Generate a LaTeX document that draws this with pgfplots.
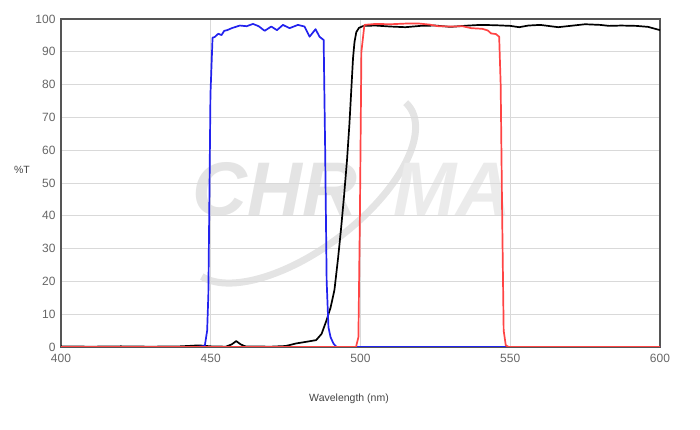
\documentclass[border=0pt]{standalone}
\usepackage{pgfplots}
\pgfplotsset{compat=1.18}
\usepackage{fontspec}
\setmainfont{Liberation Sans}
\definecolor{frame}{HTML}{555555}
\definecolor{gridc}{HTML}{D9D9D9}
\definecolor{ticktext}{HTML}{666666}
\definecolor{labtext}{HTML}{444444}
\definecolor{cblue}{HTML}{2222EE}
\definecolor{cred}{HTML}{FF4444}
\definecolor{wm}{HTML}{E4E4E4}
\definecolor{wmlight}{HTML}{EBEBEB}
\begin{document}
\begin{tikzpicture}
\begin{axis}[
  set layers,
  scale only axis,
  width=599pt, height=328pt,
  xmin=400, xmax=600, ymin=0, ymax=100,
  xtick={400,450,500,550,600},
  ytick={0,10,...,100},
  major tick length=0pt,
  axis line style={draw=frame, line width=1.6pt},
  ymajorgrids, xmajorgrids,
  major grid style={draw=gridc, line width=0.8pt},
  tick label style={font=\fontsize{12}{14}\selectfont, text=ticktext},
  /pgf/number format/assume math mode=true,
  yticklabel style={xshift=-2pt},
  xticklabel style={yshift=-4pt},
  xlabel={Wavelength (nm)},
  xlabel style={at={(axis description cs:0.4808,-0.1585)}, anchor=center, font=\fontsize{10.5}{12}\selectfont, text=labtext},
  ylabel={\%T},
  ylabel style={at={(axis description cs:-0.0651,0.5396)}, anchor=center, rotate=-90, font=\fontsize{10.5}{12}\selectfont, text=labtext},
  clip=true,
]
% watermark
\begin{pgfonlayer}{axis background}
\draw[wmlight, line width=1.6pt, shift={(axis cs:480.3,48.5)}, rotate=37]
  (0,0) ellipse [x radius=135pt, y radius=62pt];
\draw[wm, line width=7pt, shift={(axis cs:480.3,48.5)}, rotate=37]
  (190:135pt and 62pt) arc[start angle=190, end angle=365, x radius=135pt, y radius=62pt];
\node[anchor=base west, inner sep=0pt, text=wm, font=\fontsize{76}{76}\bfseries\itshape] at (axis cs:444,40.2) {CHR};
\node[anchor=base west, inner sep=0pt, text=wmlight, font=\fontsize{76}{76}\bfseries\itshape] at (axis cs:511,40.2) {MA};
\end{pgfonlayer}
% black
\addplot[black, line width=1.7pt, line join=round] coordinates {
(400,0.2)(410,0.1)(420,0.2)(430,0.1)(440,0.2)(446,0.5)(450,0.2)(455,0.1)(457,0.8)(458.5,1.8)(460,0.8)(461.5,0.2)(470,0.1)(475,0.3)(478.6,1.1)(482,1.6)(485.2,2.1)(487,4)(488.6,8)(490,12)(490.8,15.3)(491.3,17.4)(492.5,27)(493.5,36)(494.5,46)(495.5,57)(496.3,68)(496.9,78)(497.5,88)(498,93)(498.6,96)(499.5,97.3)(501,97.9)(505,98.0)(510,97.7)(515,97.5)(520,97.9)(525,98.0)(530,97.6)(536,98.0)(540,98.2)(545,98.1)(550,97.9)(553,97.5)(556,98.0)(560,98.2)(566,97.5)(570,97.9)(575,98.4)(580,98.2)(583,97.9)(587,98.0)(592,97.9)(596,97.6)(600,96.6)};
% blue
\addplot[cblue, line width=1.7pt, line join=round] coordinates {
(400,0)(445,0)(448,0.3)(448.8,5)(449.2,16)(449.6,50)(449.9,77)(450.6,94.3)(451.3,94.5)(452.5,95.5)(453.6,95.1)(454.5,96.4)(455.5,96.6)(457,97.2)(459.7,98)(462,97.8)(464.1,98.5)(466,97.8)(468,96.4)(470.2,97.7)(472.1,96.6)(474.1,98.2)(476.3,97.2)(479.1,98.2)(481.3,97.7)(483,94.6)(485,96.9)(486.3,94.6)(487.7,93.6)(488.2,60)(488.7,20)(489.3,6)(490,3)(491,1)(492,0)(600,0)};
% red
\addplot[cred, line width=1.7pt, line join=round] coordinates {
(400,0)(498.5,0)(499.3,3)(499.8,40)(500.3,90)(501.3,98.2)(505,98.5)(510,98.4)(515,98.6)(519.7,98.6)(523,98.3)(526,97.8)(530.7,97.7)(534,97.8)(537,97.2)(540.7,97)(542.5,96.5)(543.6,95.6)(545.2,95.4)(546.3,94.6)(546.8,80)(547.3,40)(547.8,5)(548.5,0.5)(549.5,0)(600,0)};
\end{axis}
\path (-61pt,-83pt) rectangle (639pt,347pt);
\end{tikzpicture}
\end{document}
